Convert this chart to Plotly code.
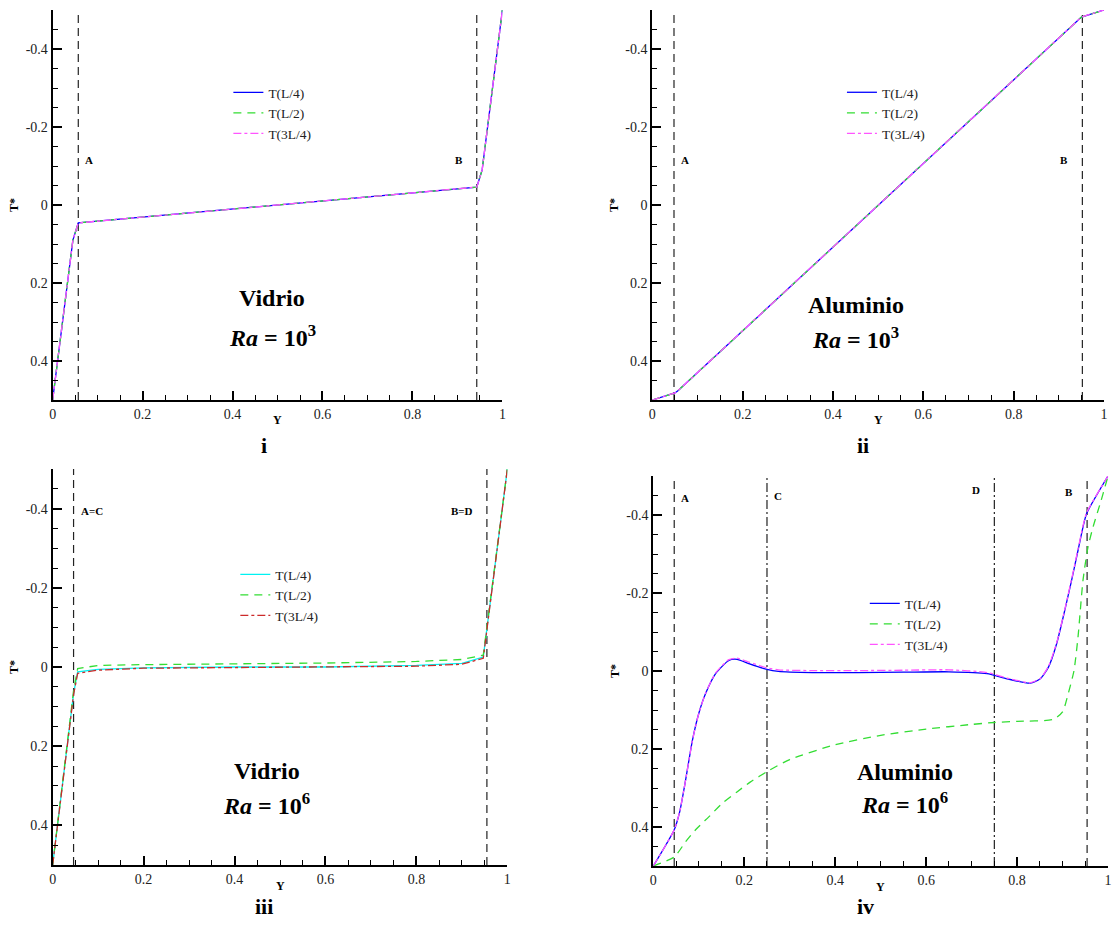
import plotly.graph_objects as go

# ---------------- data ----------------
# Panel i: Vidrio, Ra = 1e3
Y_i = [0.0, 0.045, 0.057, 0.943, 0.955, 1.0]
T_i_L4 = [0.5, 0.09, 0.046, -0.046, -0.09, -0.5]
T_i_L2 = [0.5, 0.09, 0.046, -0.046, -0.09, -0.5]
T_i_3L4 = [0.5, 0.09, 0.046, -0.046, -0.09, -0.5]

# Panel ii: Aluminio, Ra = 1e3
Y_ii = [0.0, 0.05, 0.056, 0.944, 0.95, 1.0]
T_ii_L4 = [0.5, 0.482, 0.477, -0.477, -0.482, -0.5]
T_ii_L2 = [0.5, 0.482, 0.477, -0.477, -0.482, -0.5]
T_ii_3L4 = [0.5, 0.482, 0.477, -0.477, -0.482, -0.5]

# Panel iii: Vidrio, Ra = 1e6
Y_iii = [0.0, 0.046, 0.055, 0.1, 0.2, 0.4, 0.6, 0.8, 0.9, 0.947, 1.0]
T_iii_L4 = [0.5, 0.067, 0.012, 0.006, 0.002, 0.0, 0.0, -0.004, -0.009, -0.025, -0.5]
T_iii_L2 = [0.5, 0.06, 0.004, -0.004, -0.006, -0.008, -0.010, -0.014, -0.019, -0.03, -0.5]
T_iii_3L4 = [0.5, 0.07, 0.016, 0.008, 0.003, 0.001, 0.0, -0.002, -0.007, -0.022, -0.5]

# Panel iv: Aluminio, Ra = 1e6
Y_iv_L4 = [0.0, 0.046, 0.058, 0.071, 0.086, 0.100, 0.115, 0.137, 0.166, 0.184, 0.210,
           0.250, 0.275, 0.35, 0.45, 0.55, 0.65, 0.734, 0.778, 0.829, 0.851, 0.869,
           0.887, 0.905, 0.920, 0.934, 0.945, 0.953, 1.0]
T_iv_L4 = [0.5, 0.407, 0.361, 0.280, 0.178, 0.109, 0.058, 0.007, -0.027, -0.030, -0.019,
           -0.004, 0.001, 0.004, 0.004, 0.003, 0.002, 0.007, 0.020, 0.031, 0.020, -0.010,
           -0.070, -0.156, -0.233, -0.309, -0.369, -0.404, -0.5]
Y_iv_3L4 = Y_iv_L4
T_iv_3L4 = [0.5, 0.407, 0.361, 0.280, 0.178, 0.109, 0.057, 0.005, -0.029, -0.033, -0.023,
            -0.008, -0.003, -0.001, -0.001, -0.002, -0.003, 0.004, 0.018, 0.030, 0.019, -0.012,
            -0.072, -0.158, -0.236, -0.312, -0.372, -0.406, -0.5]
Y_iv_L2 = [0.0, 0.046, 0.071, 0.093, 0.122, 0.151, 0.184, 0.213, 0.253, 0.3, 0.4, 0.5,
           0.6, 0.7, 0.75, 0.8, 0.88, 0.9, 0.912, 0.925, 0.934, 0.945, 0.956, 0.967, 0.985, 1.0]
T_iv_L2 = [0.5, 0.477, 0.438, 0.407, 0.374, 0.340, 0.310, 0.285, 0.256, 0.227, 0.189, 0.165,
           0.149, 0.137, 0.132, 0.129, 0.124, 0.105, 0.06, 0.0, -0.087, -0.233, -0.318, -0.369,
           -0.438, -0.5]

SERIES_NAMES = ["T(L/4)", "T(L/2)", "T(3L/4)"]

# interface positions (vertical reference lines) and their labels
LINES_i = [("A", 0.057, "dash"), ("B", 0.943, "dash")]
LINES_ii = [("A", 0.048, "dash"), ("B", 0.952, "dash")]
LINES_iii = [("A=C", 0.046, "dash"), ("B=D", 0.955, "dash")]
LINES_iv = [("A", 0.046, "dash"), ("C", 0.25, "dashdot"), ("D", 0.75, "dashdot"), ("B", 0.954, "dash")]

Y_TICKS = [-0.4, -0.2, 0.0, 0.2, 0.4]
Y_TICK_TEXT = ["-0.4", "-0.2", "0", "0.2", "0.4"]
X_TICKS = [0.0, 0.2, 0.4, 0.6, 0.8, 1.0]
X_TICK_TEXT = ["0", "0.2", "0.4", "0.6", "0.8", "1"]

# ---------------- styling ----------------
SERIF = "Liberation Serif"
BLUE, GREEN, MAGENTA = "#0000ff", "#33dd33", "#ff55ff"
CYAN, RED = "#00f2f2", "#cc2a2a"
DASH = "8px,6px"
DASHDOT = "8px,3px,3px,3px"
VDASH = "8px,5px"
VDASHDOT = "9px,3px,2px,3px"

W, H = 1115, 925

# plot-area boxes in pixels: (left, right, top, bottom)
BOXES = {
    1: (49, 502, 10, 400),
    2: (653, 1108, 10, 400),
    3: (49, 507, 469, 865),
    4: (654, 1112, 476, 866),
}

fig = go.Figure()

panels = [
    (1, "legend", [(Y_i, T_i_L4, BLUE, "solid"), (Y_i, T_i_L2, GREEN, DASH), (Y_i, T_i_3L4, MAGENTA, DASHDOT)], "linear"),
    (2, "legend2", [(Y_ii, T_ii_L4, BLUE, "solid"), (Y_ii, T_ii_L2, GREEN, DASH), (Y_ii, T_ii_3L4, MAGENTA, DASHDOT)], "linear"),
    (3, "legend3", [(Y_iii, T_iii_L4, CYAN, "solid"), (Y_iii, T_iii_L2, GREEN, DASH), (Y_iii, T_iii_3L4, RED, DASHDOT)], "linear"),
    (4, "legend4", [(Y_iv_L4, T_iv_L4, BLUE, "solid"), (Y_iv_L2, T_iv_L2, GREEN, DASH), (Y_iv_3L4, T_iv_3L4, MAGENTA, DASHDOT)], "spline"),
]

for idx, leg, series, shape in panels:
    sfx = "" if idx == 1 else str(idx)
    for (xs, ts, col, dash), name in zip(series, SERIES_NAMES):
        line = dict(color=col, width=1.3, dash=dash, shape=shape)
        if shape == "spline":
            line["smoothing"] = 0.6
        fig.add_trace(go.Scatter(
            x=xs, y=ts, mode="lines", name=name, line=line,
            xaxis="x" + sfx, yaxis="y" + sfx, legend=leg, showlegend=True,
        ))

layout = dict(
    width=W, height=H,
    margin=dict(l=0, r=0, t=0, b=0),
    paper_bgcolor="white", plot_bgcolor="white",
    font=dict(family=SERIF, color="black"),
    showlegend=True,
)

for idx, (l, r, t, b) in BOXES.items():
    sfx = "" if idx == 1 else str(idx)
    layout["xaxis" + sfx] = dict(
        domain=[l / W, r / W], anchor="y" + sfx, range=[0, 1],
        showline=True, linecolor="black", linewidth=2, mirror=False,
        showgrid=False, zeroline=False,
        tickmode="array", tickvals=X_TICKS, ticktext=X_TICK_TEXT,
        ticks="inside", ticklen=9, tickwidth=2, tickcolor="black",
        minor=dict(tickmode="linear", tick0=0, dtick=0.05, ticks="inside",
                   ticklen=5, tickwidth=1, tickcolor="black", showgrid=False),
        tickfont=dict(family=SERIF, size=14, color="#222"),
    )
    layout["yaxis" + sfx] = dict(
        domain=[1 - b / H, 1 - t / H], anchor="x" + sfx, range=[0.5, -0.5],
        showline=True, linecolor="black", linewidth=2, mirror=False,
        showgrid=False, zeroline=False,
        tickmode="array", tickvals=Y_TICKS, ticktext=Y_TICK_TEXT,
        ticks="inside", ticklen=9, tickwidth=2, tickcolor="black",
        minor=dict(tickmode="linear", tick0=0, dtick=0.05, ticks="inside",
                   ticklen=5, tickwidth=1, tickcolor="black", showgrid=False),
        tickfont=dict(family=SERIF, size=14, color="#222"),
        title=dict(text="<b>T*</b>", font=dict(family=SERIF, size=12, color="black"), standoff=4),
    )

# legends, one per panel (top-left corner in pixels)
LEGEND_POS = {"legend": (226, 77), "legend2": (844, 77), "legend3": (233, 559), "legend4": (867, 588)}
for key, (lx, ly) in LEGEND_POS.items():
    layout[key] = dict(
        x=lx / W, y=1 - ly / H, xanchor="left", yanchor="top",
        bgcolor="rgba(0,0,0,0)", borderwidth=0,
        font=dict(family=SERIF, size=13.5, color="#222"),
        tracegroupgap=0,
    )

shapes, annotations = [], []

LINE_SETS = [(1, LINES_i, -0.115), (2, LINES_ii, -0.115), (3, LINES_iii, -0.393), (4, LINES_iv, None)]
LABEL_Y_iv = {"A": -0.443, "C": -0.448, "D": -0.463, "B": -0.458}
for idx, lines, ylab in LINE_SETS:
    sfx = "" if idx == 1 else str(idx)
    for lab, xv, kind in lines:
        shapes.append(dict(
            type="line", xref="x" + sfx, yref="y" + sfx + " domain",
            x0=xv, x1=xv, y0=0, y1=1,
            line=dict(color="#222", width=1.2, dash=VDASH if kind == "dash" else VDASHDOT),
            layer="below",
        ))
        yv = ylab if ylab is not None else LABEL_Y_iv[lab]
        right_side = (xv < 0.5) and lab != "D"
        annotations.append(dict(
            x=xv, y=yv, xref="x" + sfx, yref="y" + sfx,
            text="<b>%s</b>" % lab, showarrow=False,
            xanchor="left" if right_side else "right", yanchor="middle",
            xshift=5 if right_side else -12,
            font=dict(family=SERIF, size=11, color="black"),
        ))

# x-axis titles, placed just under each axis
X_TITLE_Y = {1: 420, 2: 420, 3: 886, 4: 887}
for idx in BOXES:
    sfx = "" if idx == 1 else str(idx)
    annotations.append(dict(x=0.5, y=1 - X_TITLE_Y[idx] / H, xref="x" + sfx + " domain", yref="paper",
                            xanchor="center", yanchor="middle",
                            showarrow=False, text="<b>Y</b>",
                            font=dict(family=SERIF, size=12, color="black")))

# case annotations inside each panel
CASE_TEXT = [
    (1, "Vidrio", "3", 0.488, 0.239, 0.337),
    (2, "Aluminio", "3", 0.450, 0.257, 0.342),
    (3, "Vidrio", "6", 0.471, 0.263, 0.346),
    (4, "Aluminio", "6", 0.553, 0.260, 0.339),
]
for idx, mat, exp, xc, y1, y2 in CASE_TEXT:
    sfx = "" if idx == 1 else str(idx)
    annotations.append(dict(x=xc, y=y1, xref="x" + sfx, yref="y" + sfx, showarrow=False,
                            xanchor="center", yanchor="middle",
                            text="<b>%s</b>" % mat, font=dict(family=SERIF, size=24, color="black")))
    annotations.append(dict(x=xc, y=y2, xref="x" + sfx, yref="y" + sfx, showarrow=False,
                            xanchor="center", yanchor="middle",
                            text="<b><i>Ra</i> = 10<sup>%s</sup></b>" % exp,
                            font=dict(family=SERIF, size=24, color="black")))

# panel captions
CAPTIONS = [("i", 262, 446), ("ii", 865, 446), ("iii", 262, 906), ("iv", 868, 906)]
for txt, px, py in CAPTIONS:
    annotations.append(dict(x=px / W, y=1 - py / H, xref="paper", yref="paper", showarrow=False,
                            xanchor="center", yanchor="middle",
                            text="<b>%s</b>" % txt, font=dict(family=SERIF, size=22, color="black")))

layout["shapes"] = shapes
layout["annotations"] = annotations
fig.update_layout(**layout)

fig.write_html("out.html")
